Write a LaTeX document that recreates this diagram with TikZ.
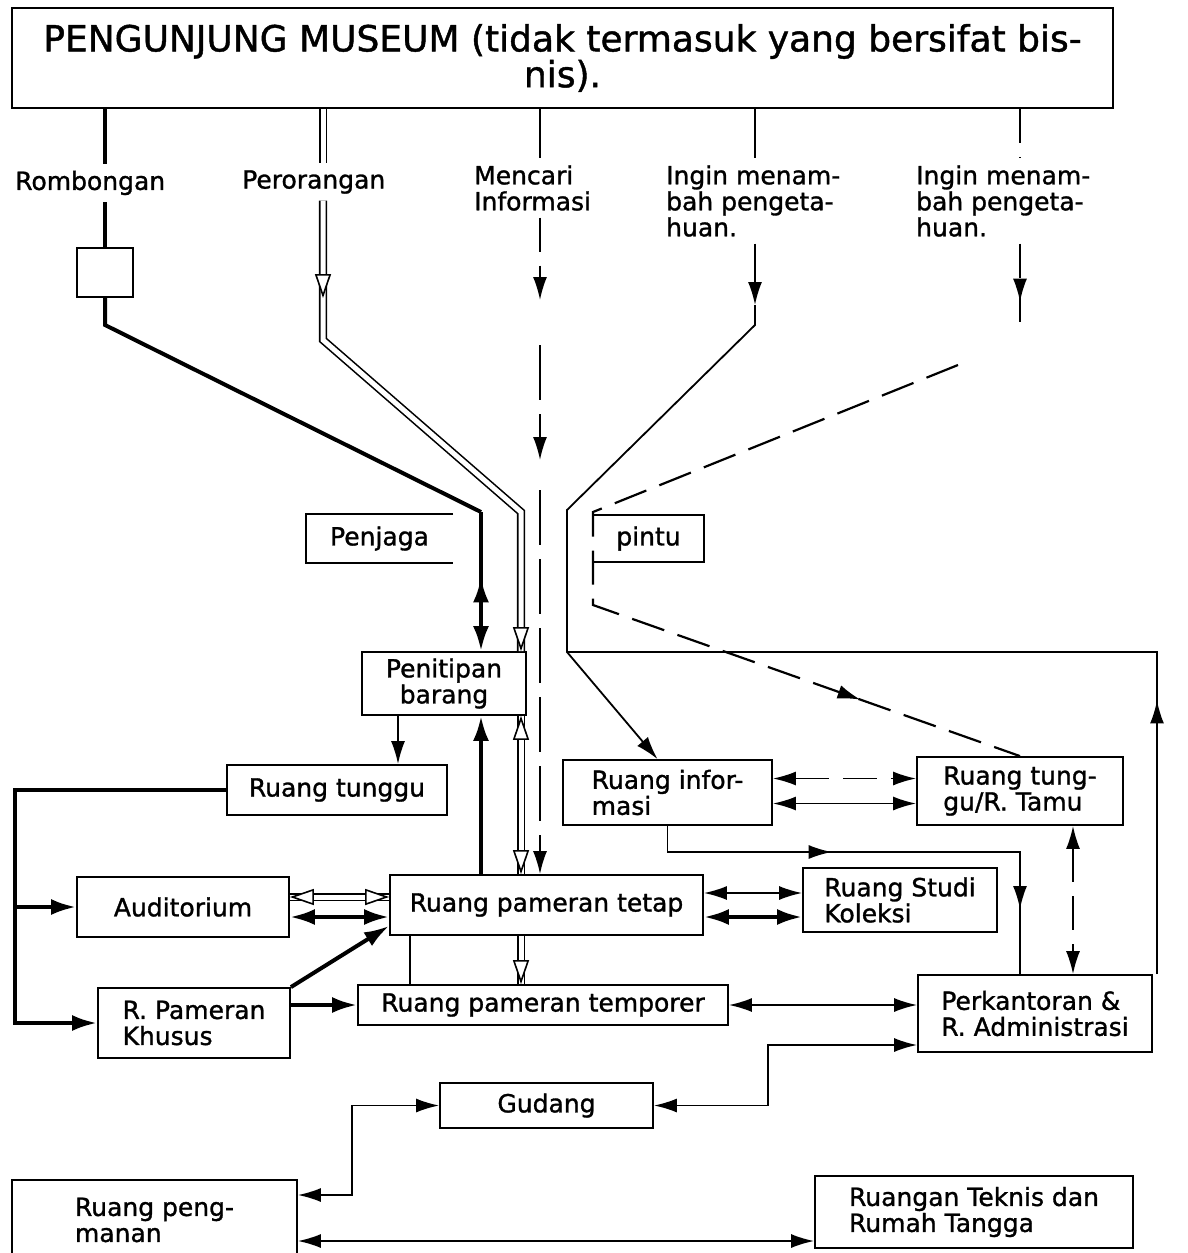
\documentclass[tikz,border=0pt]{standalone}
\usepackage{fontspec}
\setmainfont{DejaVu Sans}[FakeBold=1.2]
\usepackage{tikz}
\usetikzlibrary{arrows.meta,calc,decorations.markings}
\newcommand\lblfont{\fontsize{25}{26}\selectfont}
\newcommand\titlefont{\fontsize{36}{33}\selectfont}

\begin{document}
\begin{tikzpicture}[x=1pt, y=-1pt, every node/.style={font=\lblfont},
  box/.style={draw, line width=1.8pt, inner sep=2pt, align=left},
  lbl/.style={inner sep=0pt, outer ysep=7pt, align=left, anchor=west},
  thinline/.style={line width=1.8pt},
  thickline/.style={line width=4pt},
  dashline/.style={line width=1.8pt, dash pattern=on 34pt off 14pt},
  longdash/.style={line width=1.8pt, dash pattern=on 55pt off 14pt},
  hollowline/.style={double, double distance=5pt, line width=1.6pt},
  tip/.style={-{Latex[length=23pt,width=14pt]}},
  tips/.style={{Latex[length=23pt,width=14pt]}-{Latex[length=23pt,width=14pt]}},
  thicktip/.style={-{Latex[length=25pt,width=16pt]}},
  thicktips/.style={{Latex[length=25pt,width=16pt]}-{Latex[length=25pt,width=16pt]}},
  hollowtip/.style={line width=1.6pt, -{Triangle[open,fill=white,length=24pt,width=16pt]}},
  midarrow/.style={postaction={decorate,decoration={markings,
      mark=at position #1 with {\arrow{Latex[length=23pt,width=14pt]}}}}},
  backarrow/.style={postaction={decorate,decoration={markings,
      mark=at position #1 with {\arrowreversed{Latex[length=25pt,width=16pt]}}}}}]
\useasboundingbox (0,0) rectangle (1187,1253);

\node[draw, line width=2.5pt, minimum width=1101pt, minimum height=100pt, align=center, font=\titlefont] (title) at (562.5,58) {PENGUNJUNG MUSEUM (tidak termasuk yang bersifat bis-\\nis).};

\node[lbl] (romb) at (15,183) {Rombongan};
\node[lbl] (pero) at (242,182) {Perorangan};
\node[lbl] (cari) at (474,188) {Mencari\\Informasi};
\node[lbl] (ingin) at (666,201) {Ingin menam-\\bah pengeta-\\huan.};
\node[lbl] (inginb) at (916,201) {Ingin menam-\\bah pengeta-\\huan.};

\node[box, minimum width=56pt, minimum height=49pt] (grp) at (105,272.5) {};
\node[minimum width=147pt, minimum height=49pt] (jaga) at (379.5,538.5) {Penjaga};
\node[minimum width=111pt, minimum height=47pt] (pintu) at (648.5,538.5) {pintu};
\node[box, align=center, minimum width=164pt, minimum height=63pt] (titip) at (444,683.5) {Penitipan\\barang};
\node[box, minimum width=220pt, minimum height=50pt] (tunggu) at (337,790) {Ruang tunggu};
\node[box, minimum width=212pt, minimum height=60pt] (aud) at (183,907) {Auditorium};
\node[box, minimum width=192pt, minimum height=70pt] (khusus) at (194,1023) {R. Pameran\\Khusus};
\node[box, minimum width=313pt, minimum height=60pt] (tetap) at (546.5,905) {Ruang pameran tetap};
\node[box, minimum width=370pt, minimum height=40pt] (temporer) at (543,1005) {Ruang pameran temporer};
\node[box, minimum width=194pt, minimum height=64pt] (studi) at (900,900) {Ruang Studi\\Koleksi};
\node[box, minimum width=209pt, minimum height=65pt] (info) at (667.5,792.5) {Ruang infor-\\masi};
\node[box, minimum width=206pt, minimum height=68pt] (tamu) at (1020,791) {Ruang tung-\\gu/R. Tamu};
\node[box, minimum width=234pt, minimum height=77pt] (kantor) at (1035,1013.5) {Perkantoran \&\\R. Administrasi};
\node[box, minimum width=213pt, minimum height=45pt] (gudang) at (546.5,1105.5) {Gudang};
\node[box, minimum width=285pt, minimum height=80pt] (aman) at (154.5,1220) {Ruang peng-\\manan};
\node[box, minimum width=318pt, minimum height=72pt] (teknis) at (974,1212) {Ruangan Teknis dan\\Rumah Tangga};

\draw[thinline] (jaga.north east) -- (jaga.north west) -- (jaga.south west) -- (jaga.south east);
\draw[thinline] (pintu.north west) -- (pintu.north east) -- (pintu.south east) -- (pintu.south west);

\coordinate (r1) at (105,325);
\coordinate (r2) at (481,512);
\draw[thickline] (title.south -| grp) -- (romb.north -| grp);
\draw[thickline] (romb.south -| grp) -- (grp.north);
\draw[thickline] (grp.south) -- (r1) -- (r2);
\draw[thickline, thicktip, backarrow=0.47] (r2) -- (r2 |- titip.north);

\coordinate (p0) at (323,298);
\coordinate (p1) at (323,340);
\coordinate (p2) at (521,512);
\draw[hollowline] (title.south -| p0) -- (pero.north -| p0);
\draw[hollowline] (pero.south -| p0) -- (p1) -- (p2) -- (p2 |- titip.north);
\draw[hollowtip] ($(p0)+(0,-2)$) -- (p0);
\draw[hollowtip] ($(p2 |- titip.north)+(0,-2)$) -- (p2 |- titip.north);

\coordinate (m1) at (540,300);
\coordinate (m2) at (540,345);
\coordinate (m3) at (540,460);
\coordinate (m4) at (540,490);
\draw[thinline] (title.south -| m1) -- (cari.north -| m1);
\draw[dashline, tip] (cari.south -| m1) -- (m1);
\draw[longdash, tip] (m2) -- (m3);
\draw[longdash, tip] (m4) -- (m4 |- tetap.north);

\coordinate (i1) at (755,305);
\coordinate (i2) at (755,325);
\coordinate (i3) at (567,510);
\coordinate (i4) at (567,652);
\draw[thinline] (title.south -| i1) -- (ingin.north -| i1);
\draw[thinline, tip] (ingin.south -| i1) -- (i1);
\draw[thinline, tip] (i1) -- (i2) -- (i3) -- (i4) -- ([xshift=-10pt]info.north);

\coordinate (k1) at (1157,652);
\draw[thinline, midarrow=0.3] (kantor.north -| k1) -- (k1) -- (i4);

\coordinate (j1) at (1020,322);
\draw[dashline] (title.south -| j1) -- (inginb.north -| j1);
\draw[dashline, midarrow=0.74] (inginb.south -| j1) -- (j1);

\coordinate (d1) at (958,365);
\coordinate (d2) at (593,512);
\coordinate (d3) at (593,605);
\draw[dashline, line width=2.2pt, midarrow=0.82] (d1) -- (d2) -- (d3) -- (tamu.north);

\coordinate (t1) at (398,740);
\draw[thinline, tip] (titip.south -| t1) -- (tunggu.north -| t1);

\coordinate (w1) at (15,790);
\draw[thickline, thicktip] (tunggu.west) -- (w1) -- (w1 |- khusus.west) -- (khusus.west);
\draw[thickline, thicktip] (w1 |- aud.west) -- (aud.west);

\coordinate (au1) at ([yshift=10pt]aud.east);
\coordinate (au2) at ([yshift=-10pt]aud.east);
\draw[hollowline] (au1) -- (au1 -| tetap.west);
\draw[hollowtip] ($(au1)+(2,0)$) -- (au1);
\draw[hollowtip] ($(au1 -| tetap.west)+(-2,0)$) -- (au1 -| tetap.west);
\draw[thickline, thicktips] (au2) -- (au2 -| tetap.west);

\draw[thickline, thicktip] (khusus.north east) -- ([yshift=10pt]tetap.south west);
\draw[thickline, thicktip] (khusus.east |- temporer.west) -- (temporer.west);

\draw[thickline, thicktip] (tetap.north -| r2) -- (titip.south -| r2);
\draw[hollowline] (titip.south -| p2) -- (tetap.north -| p2);
\draw[hollowtip] ($(titip.south -| p2)+(0,2)$) -- (titip.south -| p2);
\draw[hollowtip] ($(tetap.north -| p2)+(0,-2)$) -- (tetap.north -| p2);

\coordinate (e1) at (410,960);
\draw[thinline] (tetap.south -| e1) -- (temporer.north -| e1);
\draw[hollowline] (tetap.south -| p2) -- (temporer.north -| p2);
\draw[hollowtip] ($(temporer.north -| p2)+(0,-2)$) -- (temporer.north -| p2);

\coordinate (s1) at ([yshift=12pt]tetap.east);
\coordinate (s2) at ([yshift=-12pt]tetap.east);
\draw[thinline, tips] (s1) -- (s1 -| studi.west);
\draw[thickline, thicktips] (s2) -- (s2 -| studi.west);

\coordinate (f1) at ([yshift=14pt]info.east);
\coordinate (f2) at ([yshift=-11pt]info.east);
\draw[dashline, tips] (f1) -- (f1 -| tamu.west);
\draw[thinline, tips] (f2) -- (f2 -| tamu.west);

\coordinate (g1) at (667.5,852);
\coordinate (g2) at (1020,852);
\draw[thinline, midarrow=0.38, midarrow=0.87] (info.south) -- (g1) -- (g2) -- (g2 |- kantor.north);

\coordinate (h1) at (1073,900);
\draw[dashline, tips] (tamu.south -| h1) -- (kantor.north -| h1);

\draw[thinline, tips] (temporer.east) -- (temporer.east -| kantor.west);

\coordinate (u1) at (768,1045);
\draw[thinline, tips] (gudang.east) -| (u1) -- (u1 -| kantor.west);

\coordinate (v1) at (352,1195);
\draw[thinline, tips] (gudang.west) -| (v1) -- (v1 -| aman.east);

\coordinate (z1) at (815,1241);
\draw[thinline, tips] (z1 -| aman.east) -- (z1 -| teknis.west);
\end{tikzpicture}
\end{document}
